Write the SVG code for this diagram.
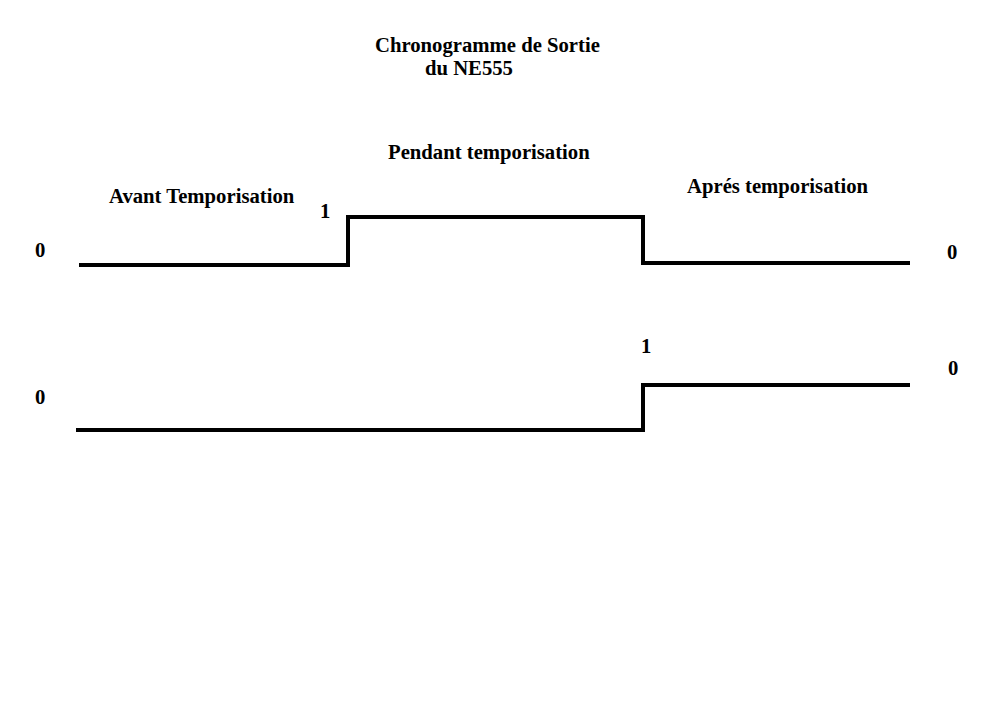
<svg xmlns="http://www.w3.org/2000/svg" width="1006" height="726" viewBox="0 0 1006 726">
<style>
text{font-family:"Liberation Serif","Times New Roman",serif;font-weight:bold;font-size:20.7px;fill:#000}
.sig{fill:none;stroke:#000;stroke-width:4;stroke-linejoin:miter}
</style>
<rect width="1006" height="726" fill="#fff"/>
<g id="titles">
<text x="375" y="52">Chronogramme de Sortie</text>
<text x="425" y="75">du NE555</text>
<text x="388" y="159">Pendant temporisation</text>
<text x="109" y="203">Avant Temporisation</text>
<text x="687" y="193">Aprés temporisation</text>
</g>
<g id="levels">
<text x="320" y="218">1</text>
<text x="35" y="257">0</text>
<text x="947" y="259">0</text>
<text x="641" y="353">1</text>
<text x="948" y="375">0</text>
<text x="35" y="404">0</text>
</g>
<g id="signals">
<polyline id="signal1" class="sig" points="79,265 348,265 348,217 643,217 643,263 910,263"/>
<polyline id="signal2" class="sig" points="76,430 643,430 643,385 910,385"/>
</g>
</svg>
